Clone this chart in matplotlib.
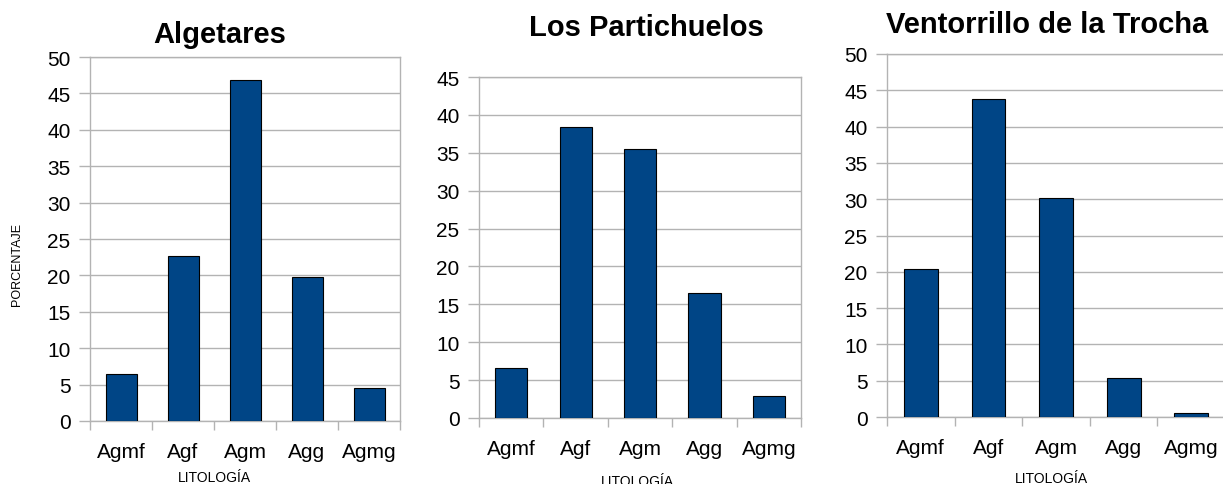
import matplotlib
matplotlib.use("Agg")
import matplotlib.pyplot as plt
from matplotlib.ticker import FixedLocator, NullFormatter

#==================Data========================
CATEGORIES = ["Agmf", "Agf", "Agm", "Agg", "Agmg"]
ALGETARES = [6.5, 22.6, 46.8, 19.8, 4.6]
PARTICHUELOS = [6.6, 38.4, 35.5, 16.5, 2.9]
VENTORRILLO = [20.4, 43.8, 30.2, 5.4, 0.5]
TITLES = ["Algetares", "Los Partichuelos", "Ventorrillo de la Trocha"]
YMAX = [50, 45, 50]
XLABEL = "LITOLOGÍA"
YLABEL = "PORCENTAJE"

#==================Layout======================
W, H = 1223, 485
BAR_COLOR = "#004586"
GRID_COLOR = "#b3b3b3"
# axes boxes in pixels: left, right, top, bottom
AX_PX = [(90, 400, 58, 422), (479, 801, 78, 419), (887, 1225, 55, 418)]
# title centre x / baseline y in pixels
TITLE_PX = [(220, 43), (646, 36), (1047, 33)]
XLAB_PX = [(214, 482), (637, 486), (1051, 483)]

plt.rcParams["font.family"] = ["Liberation Sans", "DejaVu Sans"]


def plotPanel(fig, box, values, ymax):
    l, r, t, b = box
    ax = fig.add_axes([l / W, 1 - b / H, (r - l) / W, (b - t) / H])
    x = range(len(values))
    ax.bar(x, values, width=0.5, color=BAR_COLOR, edgecolor="black", linewidth=0.8, zorder=3)
    ax.set_xlim(-0.5, len(values) - 0.5)
    ax.set_ylim(0, ymax)
    ax.set_yticks(range(0, ymax + 1, 5))
    ax.yaxis.grid(True, color=GRID_COLOR, linewidth=1, zorder=0)
    ax.set_xticks(list(x))
    ax.set_xticklabels(CATEGORIES)
    ax.xaxis.set_minor_locator(FixedLocator([i - 0.5 for i in range(len(values) + 1)]))
    ax.xaxis.set_minor_formatter(NullFormatter())
    ax.tick_params(axis="x", which="major", length=0, pad=15, labelsize=15)
    ax.tick_params(axis="x", which="minor", length=6.5, color=GRID_COLOR, width=1)
    ax.tick_params(axis="y", length=8, color=GRID_COLOR, width=1, pad=6, labelsize=15)
    for s in ax.spines.values():
        s.set_color(GRID_COLOR)
        s.set_linewidth(1)
    return ax


fig = plt.figure(figsize=(W / 100, H / 100), dpi=100)
allData = [ALGETARES, PARTICHUELOS, VENTORRILLO]
for i in range(3):
    plotPanel(fig, AX_PX[i], allData[i], YMAX[i])
    tx, ty = TITLE_PX[i]
    fig.text(tx / W, 1 - ty / H, TITLES[i], ha="center", va="baseline",
             fontsize=21, fontweight="bold")
    lx, ly = XLAB_PX[i]
    fig.text(lx / W, 1 - ly / H, XLABEL, ha="center", va="baseline", fontsize=10)

fig.text(17 / W, 1 - 265 / H, YLABEL, rotation=90, ha="center", va="center", fontsize=9)

fig.savefig("out.png", dpi=100)
